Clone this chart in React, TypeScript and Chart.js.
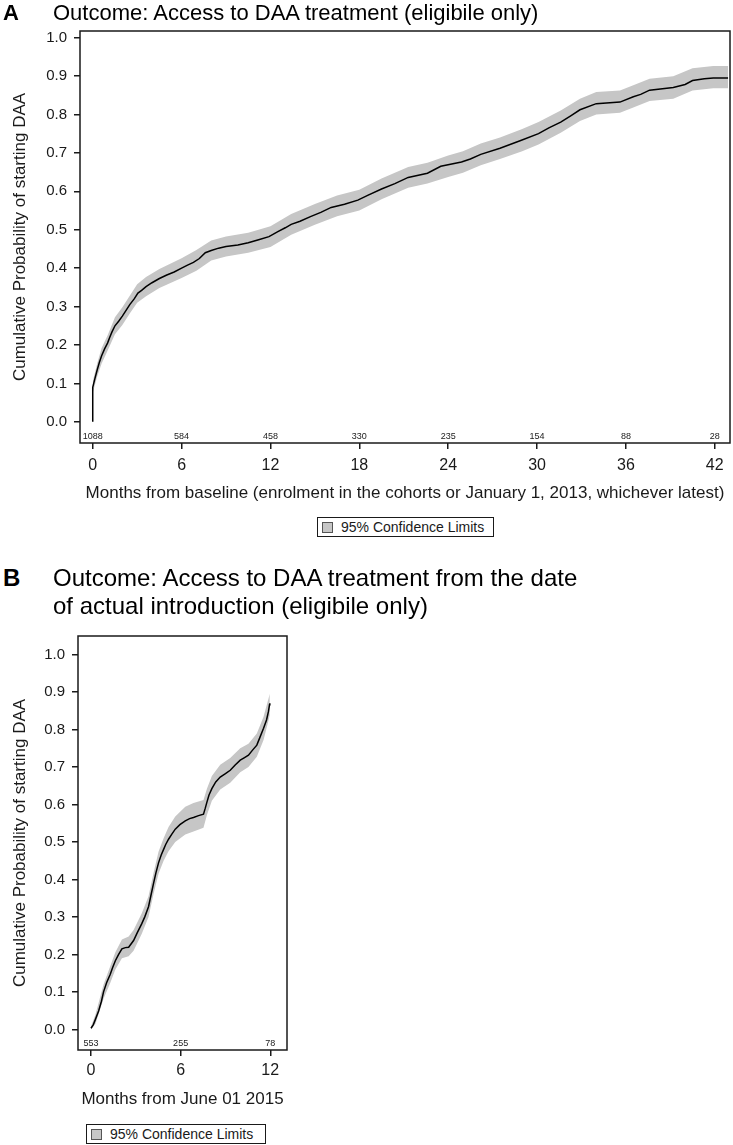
import React, { useEffect, useRef } from "react";
import { Chart, registerables } from "chart.js";

Chart.register(...registerables);

// ---------- Panel A data ----------
const monthsA = [0, 0, 0.15, 0.3, 0.45, 0.6, 0.8, 1.0, 1.15, 1.3, 1.5, 1.75, 2.0, 2.25, 2.5, 2.8, 3.05, 3.3, 3.6, 4.0, 4.5, 5.0, 5.5, 6.0, 6.4, 6.8, 7.2, 7.6, 8.0, 8.5, 9.0, 9.8, 10.5, 11.2, 11.9, 12.5, 13.0, 13.4, 14.0, 14.7, 15.4, 16.1, 17.0, 17.9, 18.6, 19.5, 20.4, 21.3, 22.6, 23.5, 24.9, 25.5, 26.2, 27.5, 28.9, 30.1, 30.8, 31.6, 32.3, 32.9, 34.0, 35.6, 36.5, 37.0, 37.6, 39.2, 40.0, 40.5, 41.3, 41.9, 42.9];
const estA = [0, 0.09, 0.113, 0.135, 0.155, 0.172, 0.19, 0.205, 0.22, 0.234, 0.25, 0.262, 0.275, 0.29, 0.305, 0.32, 0.335, 0.342, 0.352, 0.362, 0.373, 0.382, 0.39, 0.4, 0.408, 0.415, 0.425, 0.44, 0.446, 0.452, 0.456, 0.46, 0.466, 0.474, 0.482, 0.495, 0.505, 0.514, 0.522, 0.534, 0.545, 0.558, 0.566, 0.577, 0.59, 0.606, 0.62, 0.636, 0.647, 0.665, 0.676, 0.684, 0.696, 0.712, 0.732, 0.75, 0.765, 0.78, 0.797, 0.812, 0.828, 0.832, 0.846, 0.852, 0.863, 0.87, 0.878, 0.888, 0.893, 0.895, 0.895];
const bandMonthsA = [0, 0.3, 0.6, 1.0, 1.5, 2.0, 2.5, 3.0, 3.6, 4.5, 6.0, 7.0, 8.0, 9.0, 10.5, 12.0, 13.4, 15.0, 16.5, 18.0, 19.5, 21.3, 22.6, 24.0, 25.0, 26.2, 27.5, 29.0, 30.1, 31.6, 32.9, 34.0, 35.6, 36.5, 37.6, 39.2, 40.5, 41.9, 42.9];
const lowerA = [0.075, 0.118, 0.152, 0.185, 0.228, 0.252, 0.282, 0.31, 0.327, 0.348, 0.374, 0.393, 0.42, 0.43, 0.44, 0.455, 0.487, 0.513, 0.535, 0.55, 0.579, 0.609, 0.62, 0.637, 0.648, 0.668, 0.684, 0.704, 0.722, 0.752, 0.783, 0.8, 0.804, 0.818, 0.835, 0.841, 0.862, 0.868, 0.868];
const upperA = [0.105, 0.152, 0.192, 0.225, 0.272, 0.298, 0.328, 0.358, 0.377, 0.398, 0.426, 0.447, 0.472, 0.482, 0.492, 0.509, 0.541, 0.567, 0.589, 0.604, 0.633, 0.663, 0.674, 0.693, 0.704, 0.724, 0.74, 0.762, 0.78, 0.81, 0.841, 0.858, 0.862, 0.876, 0.893, 0.899, 0.92, 0.926, 0.926];
const xTicksA = [0, 6, 12, 18, 24, 30, 36, 42];
const atRiskA = [1088, 584, 458, 330, 235, 154, 88, 28];

// ---------- Panel B data ----------
const monthsB = [0, 0.15, 0.29, 0.51, 0.7, 0.84, 1.05, 1.29, 1.45, 1.63, 1.85, 2.07, 2.3, 2.52, 2.85, 3.1, 3.4, 3.6, 3.85, 4.0, 4.19, 4.35, 4.52, 4.7, 4.86, 5.0, 5.19, 5.4, 5.64, 5.95, 6.31, 6.6, 6.86, 7.2, 7.53, 7.65, 7.76, 7.9, 8.09, 8.35, 8.65, 9.0, 9.32, 9.65, 9.99, 10.25, 10.54, 10.8, 11.1, 11.3, 11.55, 11.75, 11.88, 11.95, 11.97];
const estB = [0.003, 0.012, 0.026, 0.049, 0.075, 0.1, 0.125, 0.147, 0.165, 0.183, 0.2, 0.215, 0.218, 0.219, 0.237, 0.258, 0.282, 0.3, 0.327, 0.355, 0.39, 0.418, 0.444, 0.465, 0.48, 0.493, 0.507, 0.52, 0.534, 0.546, 0.556, 0.562, 0.565, 0.57, 0.574, 0.59, 0.606, 0.625, 0.642, 0.66, 0.673, 0.682, 0.691, 0.705, 0.718, 0.724, 0.731, 0.744, 0.758, 0.778, 0.803, 0.825, 0.848, 0.866, 0.87];
const bandMonthsB = [0, 0.3, 0.84, 1.3, 1.63, 2.07, 2.52, 2.85, 3.4, 3.85, 4.19, 4.52, 4.86, 5.19, 5.64, 6.31, 6.86, 7.53, 7.76, 8.09, 8.65, 9.32, 9.99, 10.54, 11.1, 11.55, 11.97];
const lowerB = [0, 0.015, 0.082, 0.125, 0.16, 0.19, 0.195, 0.21, 0.255, 0.3, 0.362, 0.415, 0.45, 0.475, 0.5, 0.52, 0.528, 0.538, 0.572, 0.61, 0.64, 0.658, 0.686, 0.7, 0.727, 0.772, 0.838];
const upperB = [0.008, 0.04, 0.12, 0.17, 0.206, 0.24, 0.248, 0.265, 0.31, 0.355, 0.418, 0.474, 0.51, 0.54, 0.568, 0.594, 0.604, 0.612, 0.642, 0.676, 0.706, 0.724, 0.75, 0.762, 0.789, 0.834, 0.895];
const xTicksB = [0, 6, 12];
const atRiskB = [553, 255, 78];

const yTicks = [0, 0.1, 0.2, 0.3, 0.4, 0.5, 0.6, 0.7, 0.8, 0.9, 1.0];

const FONT = "'Liberation Sans', Arial, Helvetica, sans-serif";
const INK = "#1a1a1a";
const BAND = "#c6c6c6";

type PanelCfg = {
  months: number[];
  est: number[];
  bandMonths: number[];
  lower: number[];
  upper: number[];
  xTicks: number[];
  atRisk: number[];
  xMin: number;
  xMax: number;
  yMin: number;
  yMax: number;
  xTitle: string;
  width: number;
  height: number;
  padTop: number;
  padRight: number;
  yAxisWidth: number;
  xAxisHeight: number;
  xTickPad: number;
  xTitlePadBottom: number;
};

const frameAndRiskPlugin = (atRisk: number[], xTicks: number[]) => ({
  id: "frameAndRisk",
  afterDraw(chart: any) {
    const { ctx, chartArea, scales } = chart;
    ctx.save();
    ctx.strokeStyle = INK;
    ctx.lineWidth = 1.5;
    ctx.strokeRect(chartArea.left, chartArea.top, chartArea.right - chartArea.left, chartArea.bottom - chartArea.top);
    ctx.fillStyle = INK;
    ctx.font = `9px ${FONT}`;
    ctx.textAlign = "center";
    ctx.textBaseline = "bottom";
    xTicks.forEach((t, i) => {
      const x = scales.x.getPixelForValue(t);
      ctx.fillText(String(atRisk[i]), x, chartArea.bottom - 2);
    });
    ctx.restore();
  },
});

function KMPanel({ cfg }: { cfg: PanelCfg }) {
  const ref = useRef<HTMLCanvasElement | null>(null);
  useEffect(() => {
    if (!ref.current) return;
    const estData = cfg.months.map((m, i) => ({ x: m, y: cfg.est[i] }));
    const upData = cfg.bandMonths.map((m, i) => ({ x: m, y: cfg.upper[i] }));
    const loData = cfg.bandMonths.map((m, i) => ({ x: m, y: cfg.lower[i] }));
    const chart = new Chart(ref.current, {
      type: "line",
      data: {
        datasets: [
          {
            label: "Upper",
            data: upData,
            borderWidth: 0,
            borderColor: "rgba(0,0,0,0)",
            backgroundColor: BAND,
            pointRadius: 0,
            fill: "+1",
            order: 2,
          },
          {
            label: "Lower",
            data: loData,
            borderWidth: 0,
            borderColor: "rgba(0,0,0,0)",
            backgroundColor: BAND,
            pointRadius: 0,
            fill: false,
            order: 2,
          },
          {
            label: "Estimate",
            data: estData,
            borderColor: "#000",
            borderWidth: 1.5,
            pointRadius: 0,
            fill: false,
            order: 1,
          },
        ],
      },
      options: {
        responsive: false,
        animation: false,
        devicePixelRatio: 1,
        layout: { padding: { top: cfg.padTop, right: cfg.padRight, left: 0, bottom: 0 } },
        plugins: { legend: { display: false }, tooltip: { enabled: false }, title: { display: false } },
        scales: {
          x: {
            type: "linear",
            min: cfg.xMin,
            max: cfg.xMax,
            afterBuildTicks: (s: any) => {
              s.ticks = cfg.xTicks.map((v) => ({ value: v }));
            },
            afterFit: (s: any) => {
              s.height = cfg.xAxisHeight;
            },
            border: { display: false },
            grid: { drawOnChartArea: false, drawTicks: true, tickLength: 6, color: INK, lineWidth: 1.5 },
            ticks: {
              autoSkip: false,
              maxRotation: 0,
              padding: cfg.xTickPad,
              color: INK,
              font: { family: FONT, size: 16 },
              callback: (v: any) => String(v),
            },
            title: {
              display: true,
              text: cfg.xTitle,
              color: INK,
              font: { family: FONT, size: 17 },
              padding: { top: 0, bottom: cfg.xTitlePadBottom },
            },
          },
          y: {
            type: "linear",
            min: cfg.yMin,
            max: cfg.yMax,
            afterBuildTicks: (s: any) => {
              s.ticks = yTicks.map((v) => ({ value: v }));
            },
            afterFit: (s: any) => {
              s.width = cfg.yAxisWidth;
            },
            border: { display: false },
            grid: { drawOnChartArea: false, drawTicks: true, tickLength: 6, color: INK, lineWidth: 1.5 },
            ticks: {
              autoSkip: false,
              padding: 7,
              color: INK,
              font: { family: FONT, size: 15 },
              callback: (v: any) => Number(v).toFixed(1),
            },
            title: {
              display: true,
              text: "Cumulative Probability of starting DAA",
              color: INK,
              font: { family: FONT, size: 17 },
              padding: { top: 10, bottom: 0 },
            },
          },
        },
      },
      plugins: [frameAndRiskPlugin(cfg.atRisk, cfg.xTicks)],
    } as any);
    return () => chart.destroy();
  }, [cfg]);
  return <canvas ref={ref} width={cfg.width} height={cfg.height} style={{ width: cfg.width, height: cfg.height, display: "block" }} />;
}

const cfgA: PanelCfg = {
  months: monthsA,
  est: estA,
  bandMonths: bandMonthsA,
  lower: lowerA,
  upper: upperA,
  xTicks: xTicksA,
  atRisk: atRiskA,
  xMin: -0.86,
  xMax: 43.03,
  yMin: -0.055,
  yMax: 1.017,
  xTitle: "Months from baseline (enrolment in the cohorts or January 1, 2013, whichever latest)",
  width: 733,
  height: 520,
  padTop: 31,
  padRight: 3,
  yAxisWidth: 80,
  xAxisHeight: 77,
  xTickPad: 7,
  xTitlePadBottom: 16,
};

const cfgB: PanelCfg = {
  months: monthsB,
  est: estB,
  bandMonths: bandMonthsB,
  lower: lowerB,
  upper: upperB,
  xTicks: xTicksB,
  atRisk: atRiskB,
  xMin: -0.87,
  xMax: 13.12,
  yMin: -0.055,
  yMax: 1.049,
  xTitle: "Months from June 01 2015",
  width: 733,
  height: 525,
  padTop: 36,
  padRight: 446,
  yAxisWidth: 78,
  xAxisHeight: 75,
  xTickPad: 5,
  xTitlePadBottom: 15,
};

const legendStyle = (left: number, top: number, width: number): React.CSSProperties => ({
  position: "absolute",
  left,
  top,
  width,
  height: 20,
  boxSizing: "border-box",
  border: `1.5px solid ${INK}`,
  display: "flex",
  alignItems: "center",
  fontFamily: FONT,
  fontSize: 14,
  color: INK,
  background: "#fff",
});

function Legend({ left, top, width }: { left: number; top: number; width: number }) {
  return (
    <div style={legendStyle(left, top, width)}>
      <div style={{ width: 11, height: 11, boxSizing: "border-box", background: BAND, border: "1px solid #555", marginLeft: 4, marginRight: 8 }} />
      <span style={{ lineHeight: 1, whiteSpace: "nowrap" }}>95% Confidence Limits</span>
    </div>
  );
}

export default function App() {
  return (
    <div style={{ position: "absolute", left: 0, top: 0, width: 733, height: 1145, background: "#fff", overflow: "hidden" }}>
      <div style={{ position: "absolute", left: 0, top: 0 }}>
        <KMPanel cfg={cfgA} />
      </div>
      <div style={{ position: "absolute", left: 0, top: 600 }}>
        <KMPanel cfg={cfgB} />
      </div>
      <div style={{ position: "absolute", left: 3, top: 2, fontFamily: FONT, fontWeight: "bold", fontSize: 22, lineHeight: 1, color: "#000" }}>A</div>
      <div style={{ position: "absolute", left: 53, top: 1.5, fontFamily: FONT, fontSize: 22, lineHeight: 1, color: "#000", whiteSpace: "nowrap" }}>
        Outcome: Access to DAA treatment (eligibile only)
      </div>
      <div style={{ position: "absolute", left: 3, top: 564, fontFamily: FONT, fontWeight: "bold", fontSize: 24, lineHeight: "28px", color: "#000" }}>B</div>
      <div style={{ position: "absolute", left: 53, top: 564, fontFamily: FONT, fontSize: 24, lineHeight: "28px", color: "#000", whiteSpace: "nowrap" }}>
        Outcome: Access to DAA treatment from the date
        <br />
        of actual introduction (eligibile only)
      </div>
      <Legend left={317} top={517} width={177} />
      <Legend left={86} top={1124} width={180} />
    </div>
  );
}
